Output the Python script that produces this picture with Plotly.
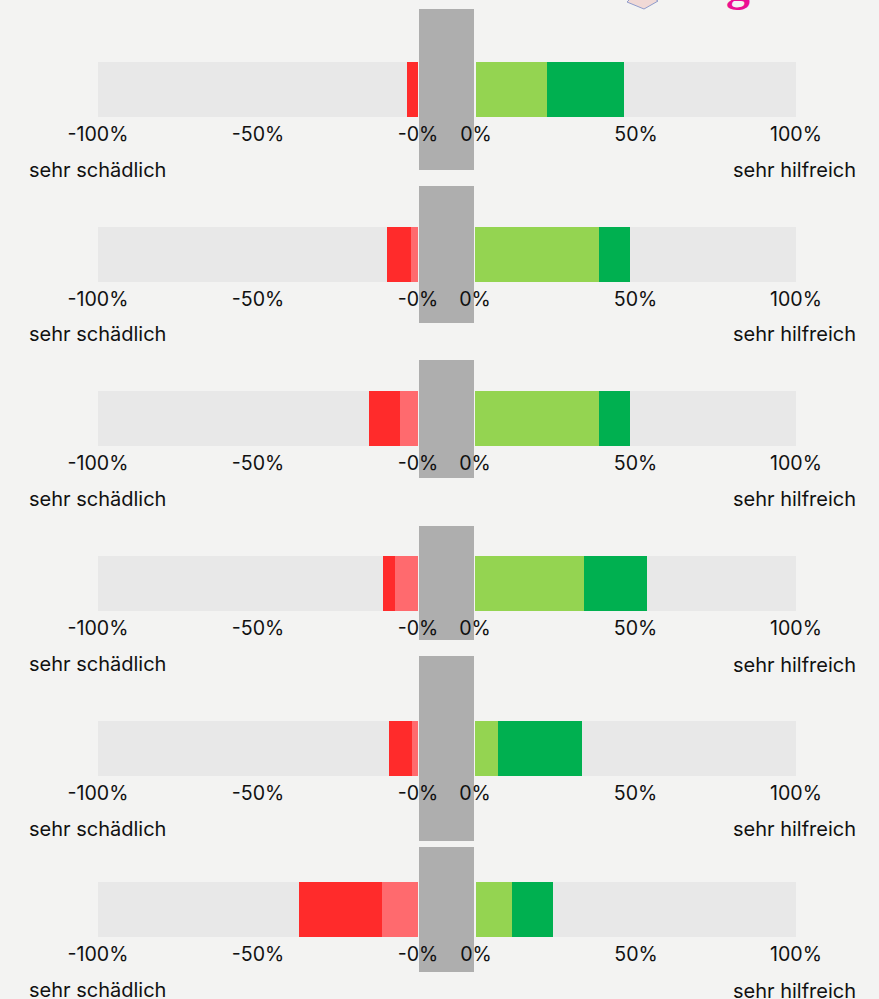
import plotly.graph_objects as go

W, H = 879, 999
# data (percent of respondents)
light_red = [0.0, 2.2, 5.6, 7.2, 2.0, 11.2]
dark_red = [3.4, 7.5, 9.7, 3.8, 7.2, 26.0]
light_green = [22.2, 38.6, 38.6, 34.0, 7.2, 11.3]
dark_green = [24.0, 9.7, 9.7, 19.6, 26.2, 12.8]
left_ticks = [-100, -50, 0]
right_ticks = [0, 50, 100]
left_labels = ["-100%", "-50%", "-0%"]
right_labels = ["0%", "50%", "100%"]
left_caption = "sehr schädlich"
right_caption = "sehr hilfreich"

# layout, in page pixels
bar_tops = [62, 227, 391, 556, 721, 882]
right_starts = [476, 475, 475, 475, 475, 476]
BAR_H = 55
mask_spans = [(9, 170), (186, 323), (360, 478), (526, 640), (656, 841), (847, 972)]
left_cap_y = [170, 334, 499, 664, 829, 990]
right_cap_y = [170, 334, 499, 665, 829, 991]
FONT = "Inter, Liberation Sans, sans-serif"
INK = "#111111"
BG = "#f3f3f2"
TRACK = "#e8e8e8"
C = dict(lr="#ff6a6e", dr="#ff2b2b", lg="#94d451", dg="#00b050", mask="#aeaeae")

fx = lambda px: px / W
fy = lambda py: 1 - py / H

fig = go.Figure()
layout = dict(
    width=W, height=H, margin=dict(l=0, r=0, t=0, b=0, pad=0),
    paper_bgcolor=BG, plot_bgcolor=TRACK, barmode="stack", bargap=0, showlegend=False,
    font=dict(family=FONT, size=20, color=INK),
)
shapes, annotations = [], []

def add_axes(idx, dom_x, dom_y, rng, tv, tt):
    xname, yname = f"xaxis{idx}", f"yaxis{idx}"
    layout[xname] = dict(
        domain=dom_x, range=rng, anchor=f"y{idx}", tickmode="array", tickvals=tv, ticktext=tt,
        ticks="", showgrid=False, zeroline=False, automargin=False,
        showline=False, tickangle=0, fixedrange=True, ticklabelstandoff=3,
        tickfont=dict(family=FONT, size=19.6, color=INK),
    )
    layout[yname] = dict(domain=dom_y, anchor=f"x{idx}", visible=False, fixedrange=True, automargin=False)

for r in range(6):
    dom_y = [fy(bar_tops[r] + BAR_H), fy(bar_tops[r])]
    li, ri = 2 * r + 1, 2 * r + 2
    add_axes(li, [fx(98), fx(418)], dom_y, [-100, 0], left_ticks, left_labels)
    add_axes(ri, [fx(right_starts[r]), fx(796)], dom_y, [0, 100], right_ticks, right_labels)
    for idx, vals, col, sign in [
        (li, light_red, C["lr"], -1), (li, dark_red, C["dr"], -1),
        (ri, light_green, C["lg"], 1), (ri, dark_green, C["dg"], 1),
    ]:
        fig.add_trace(go.Bar(
            x=[sign * vals[r]], y=["r"], orientation="h", marker=dict(color=col, line=dict(width=0)),
            xaxis=f"x{idx}", yaxis=f"y{idx}", hoverinfo="skip",
        ))
    a, b = mask_spans[r]
    shapes.append(dict(type="rect", xref="paper", yref="paper", x0=fx(419), x1=fx(474),
                       y0=fy(b), y1=fy(a), fillcolor=C["mask"], line=dict(width=0), layer="below"))
    annotations.append(dict(text=left_caption, xref="paper", yref="paper", x=fx(27), y=fy(left_cap_y[r]),
                            xanchor="left", yanchor="middle", showarrow=False,
                            font=dict(family=FONT, size=20, color=INK)))
    annotations.append(dict(text=right_caption, xref="paper", yref="paper", x=fx(858), y=fy(right_cap_y[r]),
                            xanchor="right", yanchor="middle", showarrow=False,
                            font=dict(family=FONT, size=20, color=INK)))

# cropped logo remnants at the page top
annotations.append(dict(text="<b>g</b>", xref="paper", yref="paper", x=fx(738), y=fy(-16),
                        xanchor="center", yanchor="middle", showarrow=False,
                        font=dict(family="Liberation Serif, serif", size=48, color="#ec0f93")))
shapes.append(dict(type="path", xref="paper", yref="paper",
                   path=f"M {fx(627)} {fy(2)} L {fx(644)} {fy(9)} L {fx(658)} {fy(1)} L {fx(655)} {fy(-1)} L {fx(630)} {fy(-1)} Z",
                   fillcolor="#f0d9d6", line=dict(color="#8f9ccc", width=1)))

fig.update_layout(**layout, shapes=shapes, annotations=annotations)
fig.write_html("out.html", post_script="document.body.style.margin='0';document.body.style.overflow='hidden';",
               config=dict(displayModeBar=False))
